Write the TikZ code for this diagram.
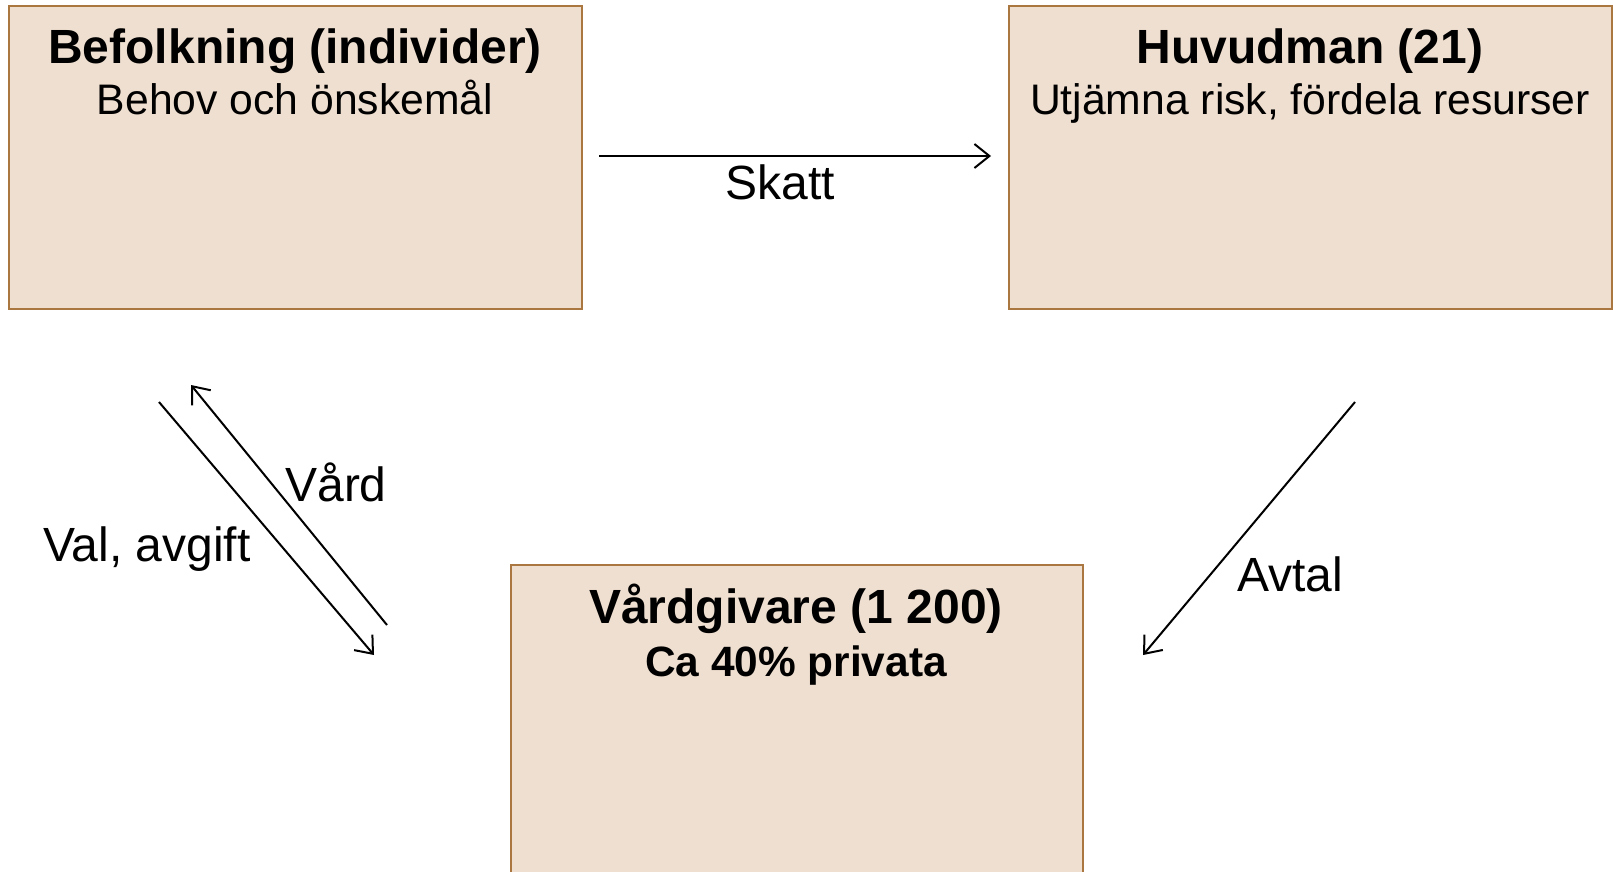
\documentclass[tikz,border=0pt]{standalone}
\usepackage{fontspec}
\setmainfont{Liberation Sans}
\usetikzlibrary{arrows.meta}
\definecolor{boxfill}{HTML}{EFDFD0}
\definecolor{boxedge}{HTML}{A9773F}
\begin{document}
\begin{tikzpicture}[x=1pt,y=-1pt,
  box/.style={draw=boxedge,fill=boxfill,line width=2pt,inner sep=0pt,anchor=north west},
  ttl/.style={font=\fontsize{48}{58}\selectfont\bfseries,anchor=base,inner sep=0pt},
  sub/.style={font=\fontsize{42.7}{52}\selectfont,anchor=base,inner sep=0pt},
  subb/.style={font=\fontsize{42.4}{52}\selectfont\bfseries,anchor=base,inner sep=0pt},
  lbl/.style={font=\fontsize{48}{56}\selectfont,anchor=base,inner sep=0pt},
  arr/.style={line width=2pt,-{Straight Barb[length=15pt,width=24pt,line width=2pt]}}]
\useasboundingbox[fill=white] (0,0) rectangle (1613,872);
% boxes
\node[box,minimum width=573pt,minimum height=303pt] (pop) at (8,5) {};
\node[box,minimum width=603pt,minimum height=303pt] (hm) at (1008,5) {};
\node[box,minimum width=572pt,minimum height=340pt] (vg) at (510,564) {};
% texts
\node[ttl] (popt) at (295,64) {Befolkning (individer)};
\node[sub] (pops) at (295,115) {Behov och önskemål};
\node[ttl] (hmt) at (1310,64) {Huvudman (21)};
\node[sub] (hms) at (1310,115) {Utjämna risk, fördela resurser};
\node[ttl] (vgt) at (796,623) {Vårdgivare (1 200)};
\node[subb] (vgs) at (796,676) {Ca 40\% privata};
% arrow endpoints
\coordinate (s1) at (599,156);
\coordinate (s2) at (991,156);
\coordinate (va1) at (159,402);
\coordinate (va2) at (374,655);
\coordinate (vd1) at (387,625);
\coordinate (vd2) at (191,385);
\coordinate (av1) at (1355,402);
\coordinate (av2) at (1143,655);
% arrows
\draw[arr] (s1) -- (s2);
\draw[arr] (va1) -- (va2);
\draw[arr] (vd1) -- (vd2);
\draw[arr] (av1) -- (av2);
% labels
\node[lbl] (skatt) at (780,199) {Skatt};
\node[lbl] (vard) at (336,501) {Vård};
\node[lbl] (val) at (147,561) {Val, avgift};
\node[lbl] (avtal) at (1290,591) {Avtal};
\end{tikzpicture}
\end{document}
